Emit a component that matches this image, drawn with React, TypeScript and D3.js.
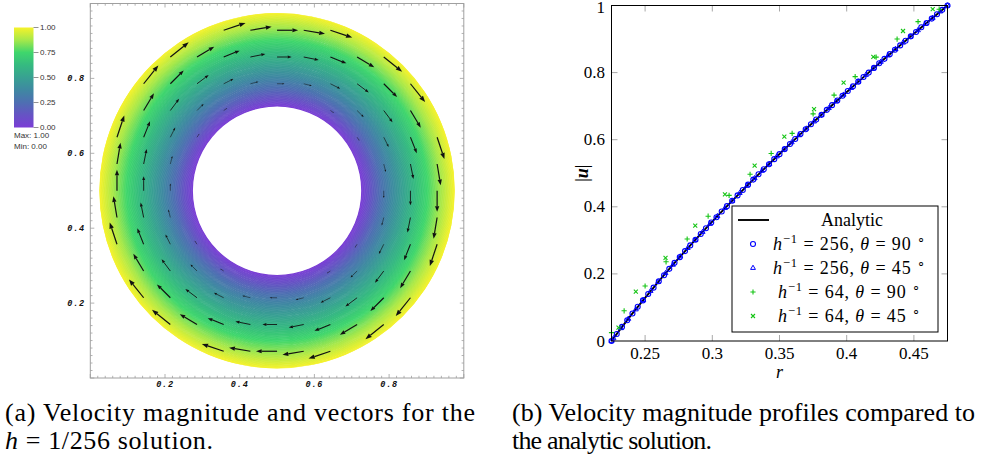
import React from "react";
import * as d3 from "d3";

// ---------- velocity magnitude profiles |u|(r) ----------
// h = 1/256, sampled along theta = 90 deg
const rFine90 = [0.225, 0.2289, 0.2328, 0.2367, 0.2406, 0.2445, 0.2484, 0.2523, 0.2563, 0.2602, 0.2641, 0.268, 0.2719, 0.2758, 0.2797, 0.2836, 0.2875, 0.2914, 0.2953, 0.2992, 0.3031, 0.307, 0.3109, 0.3148, 0.3188, 0.3227, 0.3266, 0.3305, 0.3344, 0.3383, 0.3422, 0.3461, 0.35, 0.3539, 0.3578, 0.3617, 0.3656, 0.3695, 0.3734, 0.3773, 0.3813, 0.3852, 0.3891, 0.393, 0.3969, 0.4008, 0.4047, 0.4086, 0.4125, 0.4164, 0.4203, 0.4242, 0.4281, 0.432, 0.4359, 0.4398, 0.4438, 0.4477, 0.4516, 0.4555, 0.4594, 0.4633, 0.4672, 0.4711, 0.475];
const uFine90 = [0, 0.021, 0.042, 0.062, 0.082, 0.102, 0.121, 0.14, 0.159, 0.178, 0.196, 0.215, 0.233, 0.25, 0.268, 0.285, 0.302, 0.319, 0.336, 0.353, 0.369, 0.386, 0.402, 0.418, 0.434, 0.45, 0.466, 0.481, 0.497, 0.512, 0.527, 0.542, 0.557, 0.572, 0.587, 0.602, 0.617, 0.631, 0.646, 0.66, 0.674, 0.689, 0.703, 0.717, 0.731, 0.745, 0.759, 0.773, 0.787, 0.8, 0.814, 0.828, 0.841, 0.855, 0.868, 0.881, 0.895, 0.908, 0.921, 0.935, 0.948, 0.961, 0.974, 0.987, 1];

// h = 1/256, sampled along theta = 45 deg
const rFine45 = [0.225, 0.2265, 0.232, 0.2375, 0.2431, 0.2486, 0.2541, 0.2596, 0.2652, 0.2707, 0.2762, 0.2817, 0.2873, 0.2928, 0.2983, 0.3038, 0.3094, 0.3149, 0.3204, 0.3259, 0.3315, 0.337, 0.3425, 0.348, 0.3536, 0.3591, 0.3646, 0.3701, 0.3757, 0.3812, 0.3867, 0.3922, 0.3977, 0.4033, 0.4088, 0.4143, 0.4198, 0.4254, 0.4309, 0.4364, 0.4419, 0.4475, 0.453, 0.4585, 0.464, 0.4696, 0.475];
const uFine45 = [0, 0.008, 0.038, 0.066, 0.094, 0.122, 0.149, 0.176, 0.202, 0.227, 0.252, 0.277, 0.301, 0.325, 0.349, 0.372, 0.396, 0.418, 0.441, 0.463, 0.485, 0.507, 0.528, 0.55, 0.571, 0.592, 0.613, 0.633, 0.654, 0.674, 0.694, 0.714, 0.734, 0.754, 0.773, 0.793, 0.812, 0.832, 0.851, 0.87, 0.889, 0.907, 0.926, 0.945, 0.963, 0.982, 1];

// h = 1/64, theta = 90 deg
const rCoarse90 = [0.225, 0.2344, 0.25, 0.2656, 0.2813, 0.2969, 0.3125, 0.3281, 0.3438, 0.3594, 0.375, 0.3906, 0.4063, 0.4219, 0.4375, 0.4531, 0.4688];
const uCoarse90 = [0.025, 0.09, 0.164, 0.236, 0.304, 0.372, 0.434, 0.497, 0.559, 0.619, 0.677, 0.733, 0.788, 0.846, 0.9, 0.952, 0.989];

// h = 1/64, theta = 45 deg
const rCoarse45 = [0.2302, 0.2431, 0.2652, 0.2873, 0.3094, 0.3315, 0.3536, 0.3757, 0.3977, 0.4198, 0.4419, 0.464];
const uCoarse45 = [0.04, 0.147, 0.248, 0.344, 0.437, 0.523, 0.609, 0.691, 0.77, 0.847, 0.924, 0.989];

// analytic Couette profile
const rAnalytic = [0.225, 0.2406, 0.2563, 0.2719, 0.2875, 0.3031, 0.3188, 0.3344, 0.35, 0.3656, 0.3813, 0.3969, 0.4125, 0.4281, 0.4438, 0.4594, 0.475];
const uAnalytic = [0, 0.0821, 0.1593, 0.2325, 0.3024, 0.3695, 0.4341, 0.4966, 0.5574, 0.6166, 0.6744, 0.731, 0.7865, 0.8411, 0.8948, 0.9477, 1];

// ---------- ticks / annotation ----------
const profileXTicks = [0.25, 0.3, 0.35, 0.4, 0.45];
const profileYTicks = [0, 0.2, 0.4, 0.6, 0.8, 1];
const fieldTicks = [0.2, 0.4, 0.6, 0.8];
const colorbarTicks = [0, 0.25, 0.5, 0.75, 1];

// colour map used for |u|
const cmapStops = [0, 0.125, 0.25, 0.375, 0.5, 0.625, 0.75, 0.875, 1];
const cmapColors = ["#7b3dd6", "#6653c4", "#4e6fb2", "#3f88a2", "#38a192", "#35ba80", "#3fd66c", "#a6e84a", "#f6f22a"];

// glyph sampling lattice (units of glyphSpacing about the centre)
const glyphLattice = [-6, -5, -4, -3, -2, -1, 0, 1, 2, 3, 4, 5, 6];
const glyphSpacing = 1 / 14;
const glyphScale = 25; // px per unit speed

const rInner = 0.225;
const rOuter = 0.475;

// ---------- layout ----------
const W = 984;
const H = 462;

const PX0 = 611.5, PX1 = 947.5, PY0 = 341, PY1 = 5.5;
const FX0 = 90.3, FX1 = 463.8, FY0 = 378, FY1 = 3.5;

const SERIF = "Liberation Serif";
const SANS = "Liberation Sans";
const MONO = "Liberation Mono";

const BLUE = "#0000ff";
const GREEN = "#14c414";

function Marker({ kind, x, y, color }: { kind: string; x: number; y: number; color: string }) {
  if (kind === "circle") return <circle cx={x} cy={y} r={2.5} fill="none" stroke={color} strokeWidth={1.1} />;
  if (kind === "triangle") {
    const s = 2.8;
    const p = [[x, y - s], [x + s * 0.87, y + s * 0.5], [x - s * 0.87, y + s * 0.5]];
    return <polygon points={p.map((q) => q.join(",")).join(" ")} fill="none" stroke={color} strokeWidth={1} />;
  }
  if (kind === "plus") {
    const s = 2.6;
    return <path d={`M${x - s},${y}H${x + s}M${x},${y - s}V${y + s}`} stroke={color} strokeWidth={1.1} fill="none" />;
  }
  const s = 2;
  return <path d={`M${x - s},${y - s}L${x + s},${y + s}M${x - s},${y + s}L${x + s},${y - s}`} stroke={color} strokeWidth={1.1} fill="none" />;
}

function ProfilePanel() {
  const x = d3.scaleLinear().domain([0.225, 0.475]).range([PX0, PX1]);
  const y = d3.scaleLinear().domain([0, 1]).range([PY0, PY1]);
  const line = d3
    .line<number>()
    .x((_, i) => x(rAnalytic[i]))
    .y((d) => y(d))
    .curve(d3.curveMonotoneX);

  const series = [
    { r: rFine90, u: uFine90, kind: "circle", color: BLUE },
    { r: rFine45, u: uFine45, kind: "triangle", color: BLUE },
    { r: rCoarse90, u: uCoarse90, kind: "plus", color: GREEN },
    { r: rCoarse45, u: uCoarse45, kind: "cross", color: GREEN },
  ];

  const tickLen = 6;
  const tickColor = "#a8a8a8";
  const lx = 732, ly = 206, lw = 206, lh = 126;
  const rowY = (i: number) => 220 + i * 24;

  const mathLabel = (n: string, deg: string) => (
    <>
      <tspan fontStyle="italic">h</tspan>
      <tspan fontSize={12.5} dy={-7}>−1</tspan>
      <tspan dy={7}>{` = ${n}, `}</tspan>
      <tspan fontStyle="italic">θ</tspan>
      <tspan>{` = ${deg} `}</tspan>
      <tspan fontSize={12.5} dy={-7}>∘</tspan>
    </>
  );

  return (
    <g fontFamily={SERIF}>
      {/* ticks */}
      {profileXTicks.map((t) => (
        <g key={"xt" + t}>
          <line x1={x(t)} x2={x(t)} y1={PY0} y2={PY0 - tickLen} stroke={tickColor} />
          <line x1={x(t)} x2={x(t)} y1={PY1} y2={PY1 + tickLen} stroke={tickColor} />
          <text x={x(t)} y={359} textAnchor="middle" fontFamily={SERIF} fontSize={17}>
            {String(t)}
          </text>
        </g>
      ))}
      {profileYTicks.map((t) => (
        <g key={"yt" + t}>
          {t > 0 && t < 1 && (
            <>
              <line x1={PX0} x2={PX0 + tickLen} y1={y(t)} y2={y(t)} stroke={tickColor} />
              <line x1={PX1} x2={PX1 - tickLen} y1={y(t)} y2={y(t)} stroke={tickColor} />
            </>
          )}
          <text x={605} y={Math.max(y(t) + 5.5, 13)} textAnchor="end" fontFamily={SERIF} fontSize={17}>
            {String(t)}
          </text>
        </g>
      ))}

      {/* analytic curve */}
      <path d={line(uAnalytic) || ""} fill="none" stroke="#000" strokeWidth={1.9} />

      {/* discrete solutions */}
      {series.map((s, si) => (
        <g key={"s" + si}>
          {s.r.map((rv, i) => (
            <Marker key={i} kind={s.kind} x={x(rv)} y={y(s.u[i])} color={s.color} />
          ))}
        </g>
      ))}

      {/* frame */}
      <rect x={PX0} y={PY1} width={PX1 - PX0} height={PY0 - PY1} fill="none" stroke="#000" strokeWidth={1} />

      {/* axis labels */}
      <text x={(PX0 + PX1) / 2} y={378} textAnchor="middle" fontFamily={SERIF} fontSize={18} fontStyle="italic">
        r
      </text>
      <text transform={`translate(588,${(PY0 + PY1) / 2}) rotate(-90)`} textAnchor="middle" fontFamily={SERIF} fontSize={18}>
        |<tspan fontWeight="bold" fontStyle="italic">u</tspan>|
      </text>

      {/* legend */}
      <rect x={lx} y={ly} width={lw} height={lh} fill="#fff" stroke="#000" strokeWidth={1} />
      <line x1={738} x2={769} y1={rowY(0)} y2={rowY(0)} stroke="#000" strokeWidth={1.9} />
      <text x={852} y={rowY(0) + 6} textAnchor="middle" fontFamily={SERIF} fontSize={18}>
        Analytic
      </text>
      {series.map((s, i) => (
        <g key={"lg" + i}>
          <Marker kind={s.kind} x={753} y={rowY(i + 1)} color={s.color} />
          <text
            x={849}
            y={rowY(i + 1) + 6}
            textAnchor="middle"
            fontFamily={SERIF}
            fontSize={18}
            textLength={i < 2 ? 152 : 142}
            lengthAdjust="spacing"
          >
            {mathLabel(i < 2 ? "256" : "64", i % 2 === 0 ? "90" : "45")}
          </text>
        </g>
      ))}
    </g>
  );
}

function FieldPanel() {
  const fx = d3.scaleLinear().domain([0, 1]).range([FX0, FX1]);
  const fy = d3.scaleLinear().domain([0, 1]).range([FY0, FY1]);
  const cx = fx(0.5);
  const cy = fy(0.5);
  const unit = (FX1 - FX0 + (FY0 - FY1)) / 2;
  const speedAt = d3.scaleLinear().domain(rAnalytic).range(uAnalytic).clamp(true);
  const cmap = d3.scaleLinear<string>().domain(cmapStops).range(cmapColors).interpolate(d3.interpolateRgb);
  const arc = d3.arc();

  const nRings = 150;
  const rings = d3.range(nRings).map((i) => {
    const a = rInner + ((rOuter - rInner) * i) / nRings;
    const b = rInner + ((rOuter - rInner) * (i + 1)) / nRings;
    return {
      d:
        arc({
          innerRadius: a * unit,
          outerRadius: b * unit + (i < nRings - 1 ? 0.5 : 0),
          startAngle: 0,
          endAngle: 2 * Math.PI,
        } as any) || "",
      color: cmap(speedAt((a + b) / 2)),
    };
  });

  // velocity glyphs on the sampling lattice
  const glyphs: { shaft: string; head: string; w: number }[] = [];
  glyphLattice.forEach((i) =>
    glyphLattice.forEach((j) => {
      const dx = i * glyphSpacing;
      const dy = j * glyphSpacing;
      const r = Math.hypot(dx, dy);
      if (r <= rInner || r >= rOuter) return;
      const L = glyphScale * speedAt(r);
      if (L < 0.8) return;
      const tx = fx(0.5 + dx);
      const ty = fy(0.5 + dy);
      const ux = dy / r;
      const uy = dx / r;
      const hl = 0.27 * L;
      const hw = 0.1 * L;
      const bx = tx + ux * (L - hl);
      const by = ty + uy * (L - hl);
      const px = tx + ux * L;
      const py = ty + uy * L;
      const nx = -uy;
      const ny = ux;
      glyphs.push({
        shaft: `M${tx},${ty}L${bx},${by}`,
        head: `M${px},${py}L${bx + nx * hw},${by + ny * hw}L${bx - nx * hw},${by - ny * hw}Z`,
        w: Math.max(0.5, Math.min(1.2, 0.06 * L)),
      });
    })
  );

  // frame ticks
  const minor = d3.range(0, 51).map((k) => k * 0.02);
  const frameColor = "#a0a0a0";

  // colour bar
  const cbX = 14, cbY = 27.5, cbW = 19.5, cbH = 100;
  const cb = d3.scaleLinear().domain([0, 1]).range([cbY + cbH, cbY]);

  return (
    <g>
      <defs>
        <linearGradient id="cbar" x1="0" y1="1" x2="0" y2="0">
          {cmapStops.map((s, i) => (
            <stop key={i} offset={s} stopColor={cmapColors[i]} />
          ))}
        </linearGradient>
      </defs>

      {/* annulus */}
      <g transform={`translate(${cx},${cy})`}>
        {rings.map((rg, i) => (
          <path key={i} d={rg.d} fill={rg.color} />
        ))}
      </g>

      {/* glyphs */}
      <g fill="#111" stroke="#111">
        {glyphs.map((g, i) => (
          <g key={i}>
            <path d={g.shaft} strokeWidth={g.w} fill="none" />
            <path d={g.head} stroke="none" />
          </g>
        ))}
      </g>

      {/* frame */}
      <rect x={FX0} y={FY1} width={FX1 - FX0} height={FY0 - FY1} fill="none" stroke={frameColor} strokeWidth={1} />
      {minor.map((t, k) => {
        const len = k % 10 === 0 ? 4 : 2.2;
        return (
          <g key={"mt" + k} stroke={frameColor} strokeWidth={0.8}>
            <line x1={fx(t)} x2={fx(t)} y1={FY0} y2={FY0 - len} />
            <line x1={fx(t)} x2={fx(t)} y1={FY1} y2={FY1 + len} />
            <line x1={FX0} x2={FX0 + len} y1={fy(t)} y2={fy(t)} />
            <line x1={FX1} x2={FX1 - len} y1={fy(t)} y2={fy(t)} />
          </g>
        );
      })}
      {fieldTicks.map((t) => (
        <g key={"ft" + t} fontFamily={MONO} fontSize={8.5} fontWeight="bold" fontStyle="italic" fill="#111">
          <text x={fx(t)} y={387} textAnchor="middle" letterSpacing={0.8}>
            {t.toFixed(1)}
          </text>
          <text x={85} y={fy(t) + 3} textAnchor="end" letterSpacing={0.8}>
            {t.toFixed(1)}
          </text>
        </g>
      ))}

      {/* colour bar */}
      <rect x={cbX} y={cbY} width={cbW} height={cbH} fill="url(#cbar)" />
      {colorbarTicks.map((t) => (
        <g key={"cb" + t}>
          <line x1={cbX + cbW} x2={cbX + cbW + 5} y1={cb(t)} y2={cb(t)} stroke="#777" strokeWidth={0.8} />
          <text x={40} y={cb(t) + 2.8} fontFamily={SANS} fontSize={8} fill="#333">
            {t.toFixed(2)}
          </text>
        </g>
      ))}
      <text x={14} y={137.5} fontFamily={SANS} fontSize={8} fill="#333">
        Max: 1.00
      </text>
      <text x={14} y={148.5} fontFamily={SANS} fontSize={8} fill="#333">
        Min: 0.00
      </text>
    </g>
  );
}

function Captions() {
  return (
    <g fontFamily={SERIF} fontSize={26} fill="#000">
      <text x={5} y={421} textLength={470} lengthAdjust="spacing">
        (a) Velocity magnitude and vectors for the
      </text>
      <text x={5} y={449} textLength={208} lengthAdjust="spacing">
        <tspan fontStyle="italic">h</tspan> = 1/256 solution.
      </text>
      <text x={512} y={421} textLength={463} lengthAdjust="spacing">
        (b) Velocity magnitude profiles compared to
      </text>
      <text x={512} y={449} textLength={200} lengthAdjust="spacing">
        the analytic solution.
      </text>
    </g>
  );
}

export default function App() {
  return (
    <svg
      width={W}
      height={H}
      viewBox={`0 0 ${W} ${H}`}
      style={{ position: "absolute", left: 0, top: 0, background: "#fff" }}
    >
      <rect width={W} height={H} fill="#fff" />
      <FieldPanel />
      <ProfilePanel />
      <Captions />
    </svg>
  );
}
